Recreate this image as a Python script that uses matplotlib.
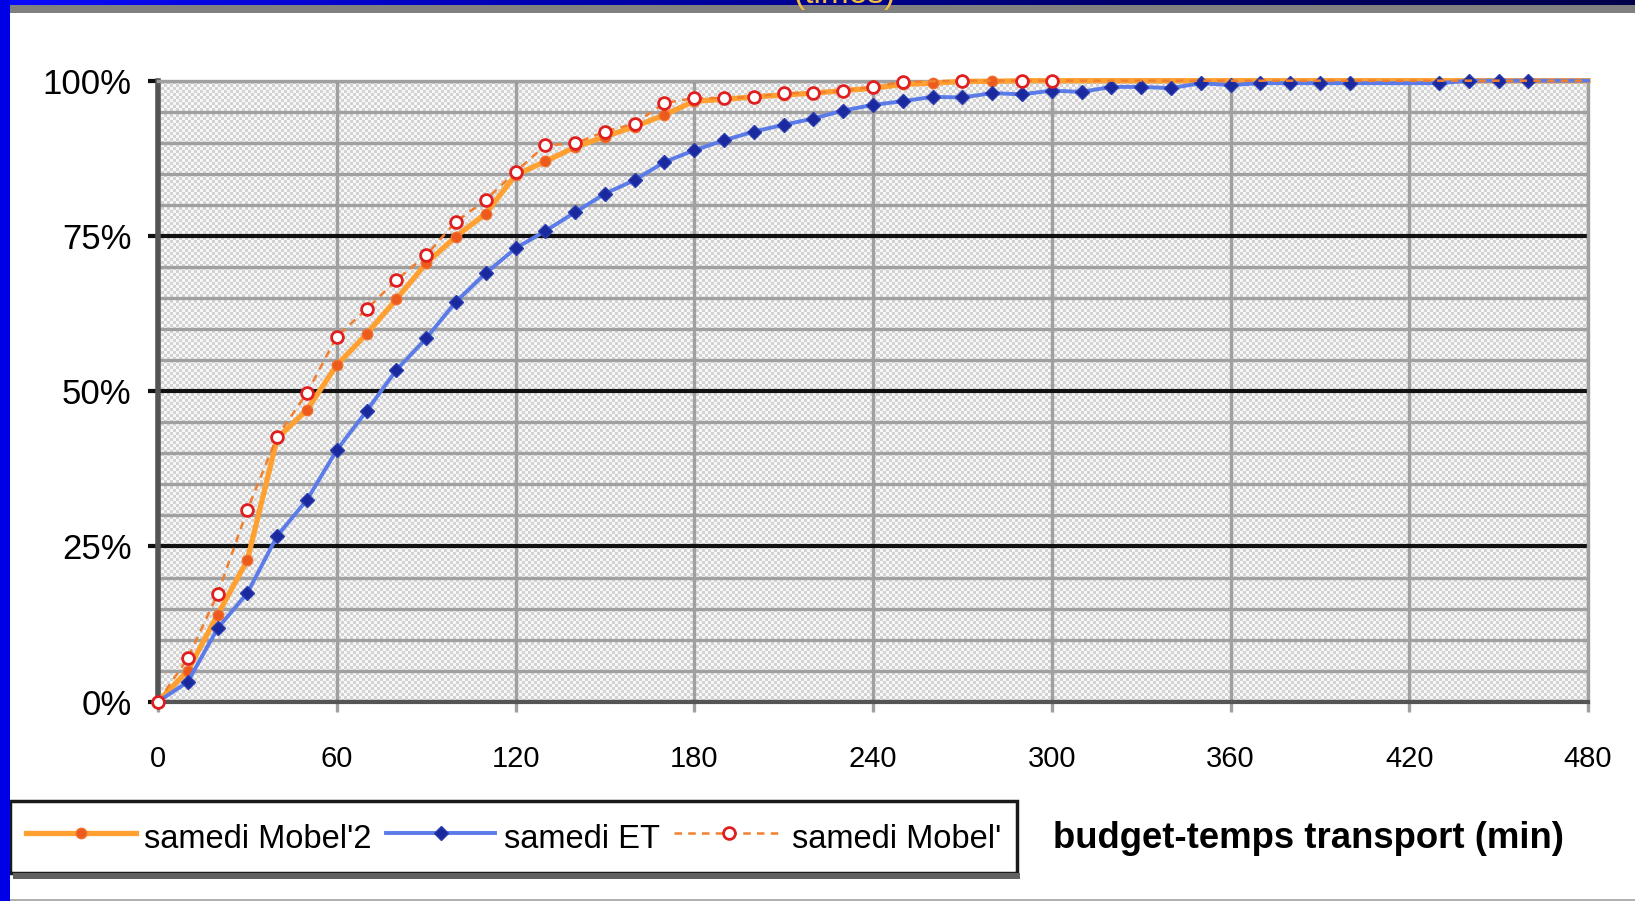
import numpy as np
import matplotlib
matplotlib.use("Agg")
import matplotlib.pyplot as plt
from matplotlib.patches import Rectangle
from matplotlib.ticker import FuncFormatter, MultipleLocator

plt.rcParams['font.family'] = ['Liberation Sans', 'DejaVu Sans']

# budget-temps (min) et part cumulée (%)
x_mobel2 = [0, 10, 20, 30, 40, 50, 60, 70, 80, 90, 100, 110, 120, 130, 140, 150,
            160, 170, 180, 190, 200, 210, 220, 230, 240, 250, 260, 270, 280, 290,
            300, 480]
y_mobel2 = [0, 5, 14, 22.8, 42.4, 47.0, 54.2, 59.2, 64.8, 70.6, 74.9, 78.6, 84.8,
            87.0, 89.3, 91.0, 92.6, 94.5, 96.7, 97.0, 97.4, 97.7, 98.0, 98.4, 98.8,
            99.4, 99.6, 99.9, 99.9, 100, 100, 100]

x_et = [0, 10, 20, 30, 40, 50, 60, 70, 80, 90, 100, 110, 120, 130, 140, 150, 160,
        170, 180, 190, 200, 210, 220, 230, 240, 250, 260, 270, 280, 290, 300, 310,
        320, 330, 340, 350, 360, 370, 380, 390, 400, 430, 440, 450, 460, 480]
y_et = [0, 3.2, 11.8, 17.5, 26.7, 32.5, 40.5, 46.8, 53.4, 58.5, 64.4, 69.0, 73.0,
        75.8, 78.8, 81.8, 84.0, 86.9, 88.8, 90.4, 91.8, 92.9, 93.9, 95.2, 96.1,
        96.7, 97.4, 97.3, 98.0, 97.8, 98.4, 98.2, 99.0, 99.0, 98.8, 99.6, 99.3,
        99.6, 99.6, 99.6, 99.6, 99.6, 100, 100, 100, 100]

x_mobel = [0, 10, 20, 30, 40, 50, 60, 70, 80, 90, 100, 110, 120, 130, 140, 150, 160,
           170, 180, 190, 200, 210, 220, 230, 240, 250, 270, 290, 300, 480]
y_mobel = [0, 7.0, 17.3, 30.9, 42.7, 49.7, 58.8, 63.2, 67.9, 71.9, 77.3, 80.8, 85.3,
           89.6, 89.9, 91.8, 93.1, 96.4, 97.2, 97.2, 97.4, 98.0, 98.0, 98.4, 99.0,
           99.8, 100, 100, 100, 100]

W, H = 1635, 901
fig = plt.figure(figsize=(W / 100, H / 100), dpi=100)
fig.patch.set_facecolor('white')

# bandeau du haut (reste de la diapo)
band = fig.add_axes([0, 1 - 6 / H, 1, 6 / H])
grad = np.linspace(0, 1, 256).reshape(1, -1)
band.imshow(grad, aspect='auto', cmap=matplotlib.colors.LinearSegmentedColormap.from_list(
    'b', ['#0a0aff', '#0000b0', '#000070', '#00004a']))
band.axis('off')
fig.text(845 / W, 1 - 3 / H, '(times)', color='#f2c040', fontsize=24, ha='center',
         va='baseline')
fig.add_artist(Rectangle((10 / W, 1 - 13 / H), 1, 8 / H, transform=fig.transFigure,
                         color='#808080', lw=0))
fig.add_artist(Rectangle((0, 0), 10 / W, 1, transform=fig.transFigure,
                         color='#0000e6', lw=0))
fig.add_artist(Rectangle((10 / W, 0), 1, 2 / H, transform=fig.transFigure,
                         color='#b0b0b0', lw=0))

ax = fig.add_axes([158 / W, 1 - 701.7 / H, (1588 - 158) / W, (701.7 - 80.7) / H])
ax.set_axisbelow(True)

# fond tramé gris
nx, ny = 1430 // 3, 621 // 3
checker = (np.add.outer(np.arange(ny), np.arange(nx)) % 2).astype(float)
ax.imshow(checker, extent=(0, 480, 0, 100), aspect='auto', interpolation='nearest',
          cmap=matplotlib.colors.ListedColormap(['#f7f7f7', '#d3d3d3']), zorder=0.1)
ax.set_xlim(0, 480)
ax.set_ylim(0, 100)

ax.xaxis.set_major_locator(MultipleLocator(60))
ax.xaxis.set_minor_locator(MultipleLocator(30))
ax.yaxis.set_major_locator(MultipleLocator(25))
ax.yaxis.set_minor_locator(MultipleLocator(5))
ax.yaxis.set_major_formatter(FuncFormatter(lambda v, p: f"{v:.0f}%"))

ax.grid(which='minor', axis='y', color='#a0a0a0', lw=2.4)
ax.grid(which='major', axis='y', color='#111111', lw=3)
ax.grid(which='major', axis='x', color='#a0a0a0', lw=2.4)

ax.tick_params(axis='y', which='major', length=7, width=3, color='#111111',
               labelsize=25, pad=12)
ax.tick_params(axis='y', which='minor', length=0)
ax.tick_params(axis='x', which='major', length=7, width=2.4, color='#a0a0a0',
               labelsize=21, pad=24)
ax.tick_params(axis='x', which='minor', direction='inout', length=3, width=3,
               color='#111111')

for s in ['top', 'right']:
    ax.spines[s].set_color('#a0a0a0')
    ax.spines[s].set_linewidth(2.4)
ax.spines['left'].set_color('#555555')
ax.spines['left'].set_linewidth(4)
ax.spines['bottom'].set_color('#555555')
ax.spines['bottom'].set_linewidth(3)

l1, = ax.plot(x_mobel2, y_mobel2, color='#ffa030', lw=3.8, marker='o', ms=7.5,
              mfc='#ec5a1c', mec='#f07030', mew=1, markevery=list(range(len(x_mobel2) - 1)),
              label="samedi Mobel'2", clip_on=False, zorder=3)
l2, = ax.plot(x_et, y_et, color='#5b7ce8', lw=2.8, marker='D', ms=6.8,
              mfc='#1a2a9e', mec='#2a3ab0', mew=1, markevery=list(range(len(x_et) - 1)),
              label='samedi ET', clip_on=False, zorder=4)
l3, = ax.plot(x_mobel, y_mobel, color='#f08030', lw=1.8, ls=(0, (3, 2.5)), marker='o',
              ms=8.5, mfc='white', mec='#e02020', mew=2,
              markevery=list(range(len(x_mobel) - 1)),
              label="samedi Mobel'", clip_on=False, zorder=5)

leg = ax.legend(handles=[l1, l2, l3], loc='upper left',
                bbox_to_anchor=(10 / W, 1 - 801 / H), bbox_transform=fig.transFigure,
                ncol=3, fontsize=23.5, frameon=True, fancybox=False, edgecolor='#1a1a1a',
                framealpha=1, handlelength=3.35, handleheight=1.5, handletextpad=0.25,
                columnspacing=0.45, borderpad=0.5, borderaxespad=0)
leg.get_frame().set_linewidth(2.5)

# ombre sous la légende
fig.canvas.draw()
bb = leg.get_window_extent().transformed(fig.transFigure.inverted())
fig.add_artist(Rectangle((bb.x0 + 3 / W, bb.y0 - 6 / H), bb.width, 6 / H,
                         transform=fig.transFigure, color='#606060', lw=0))

fig.text(1053 / W, 1 - 839 / H, 'budget-temps transport (min)', fontweight='bold',
         fontsize=26.3, va='center')

fig.savefig('out.png', dpi=100)
